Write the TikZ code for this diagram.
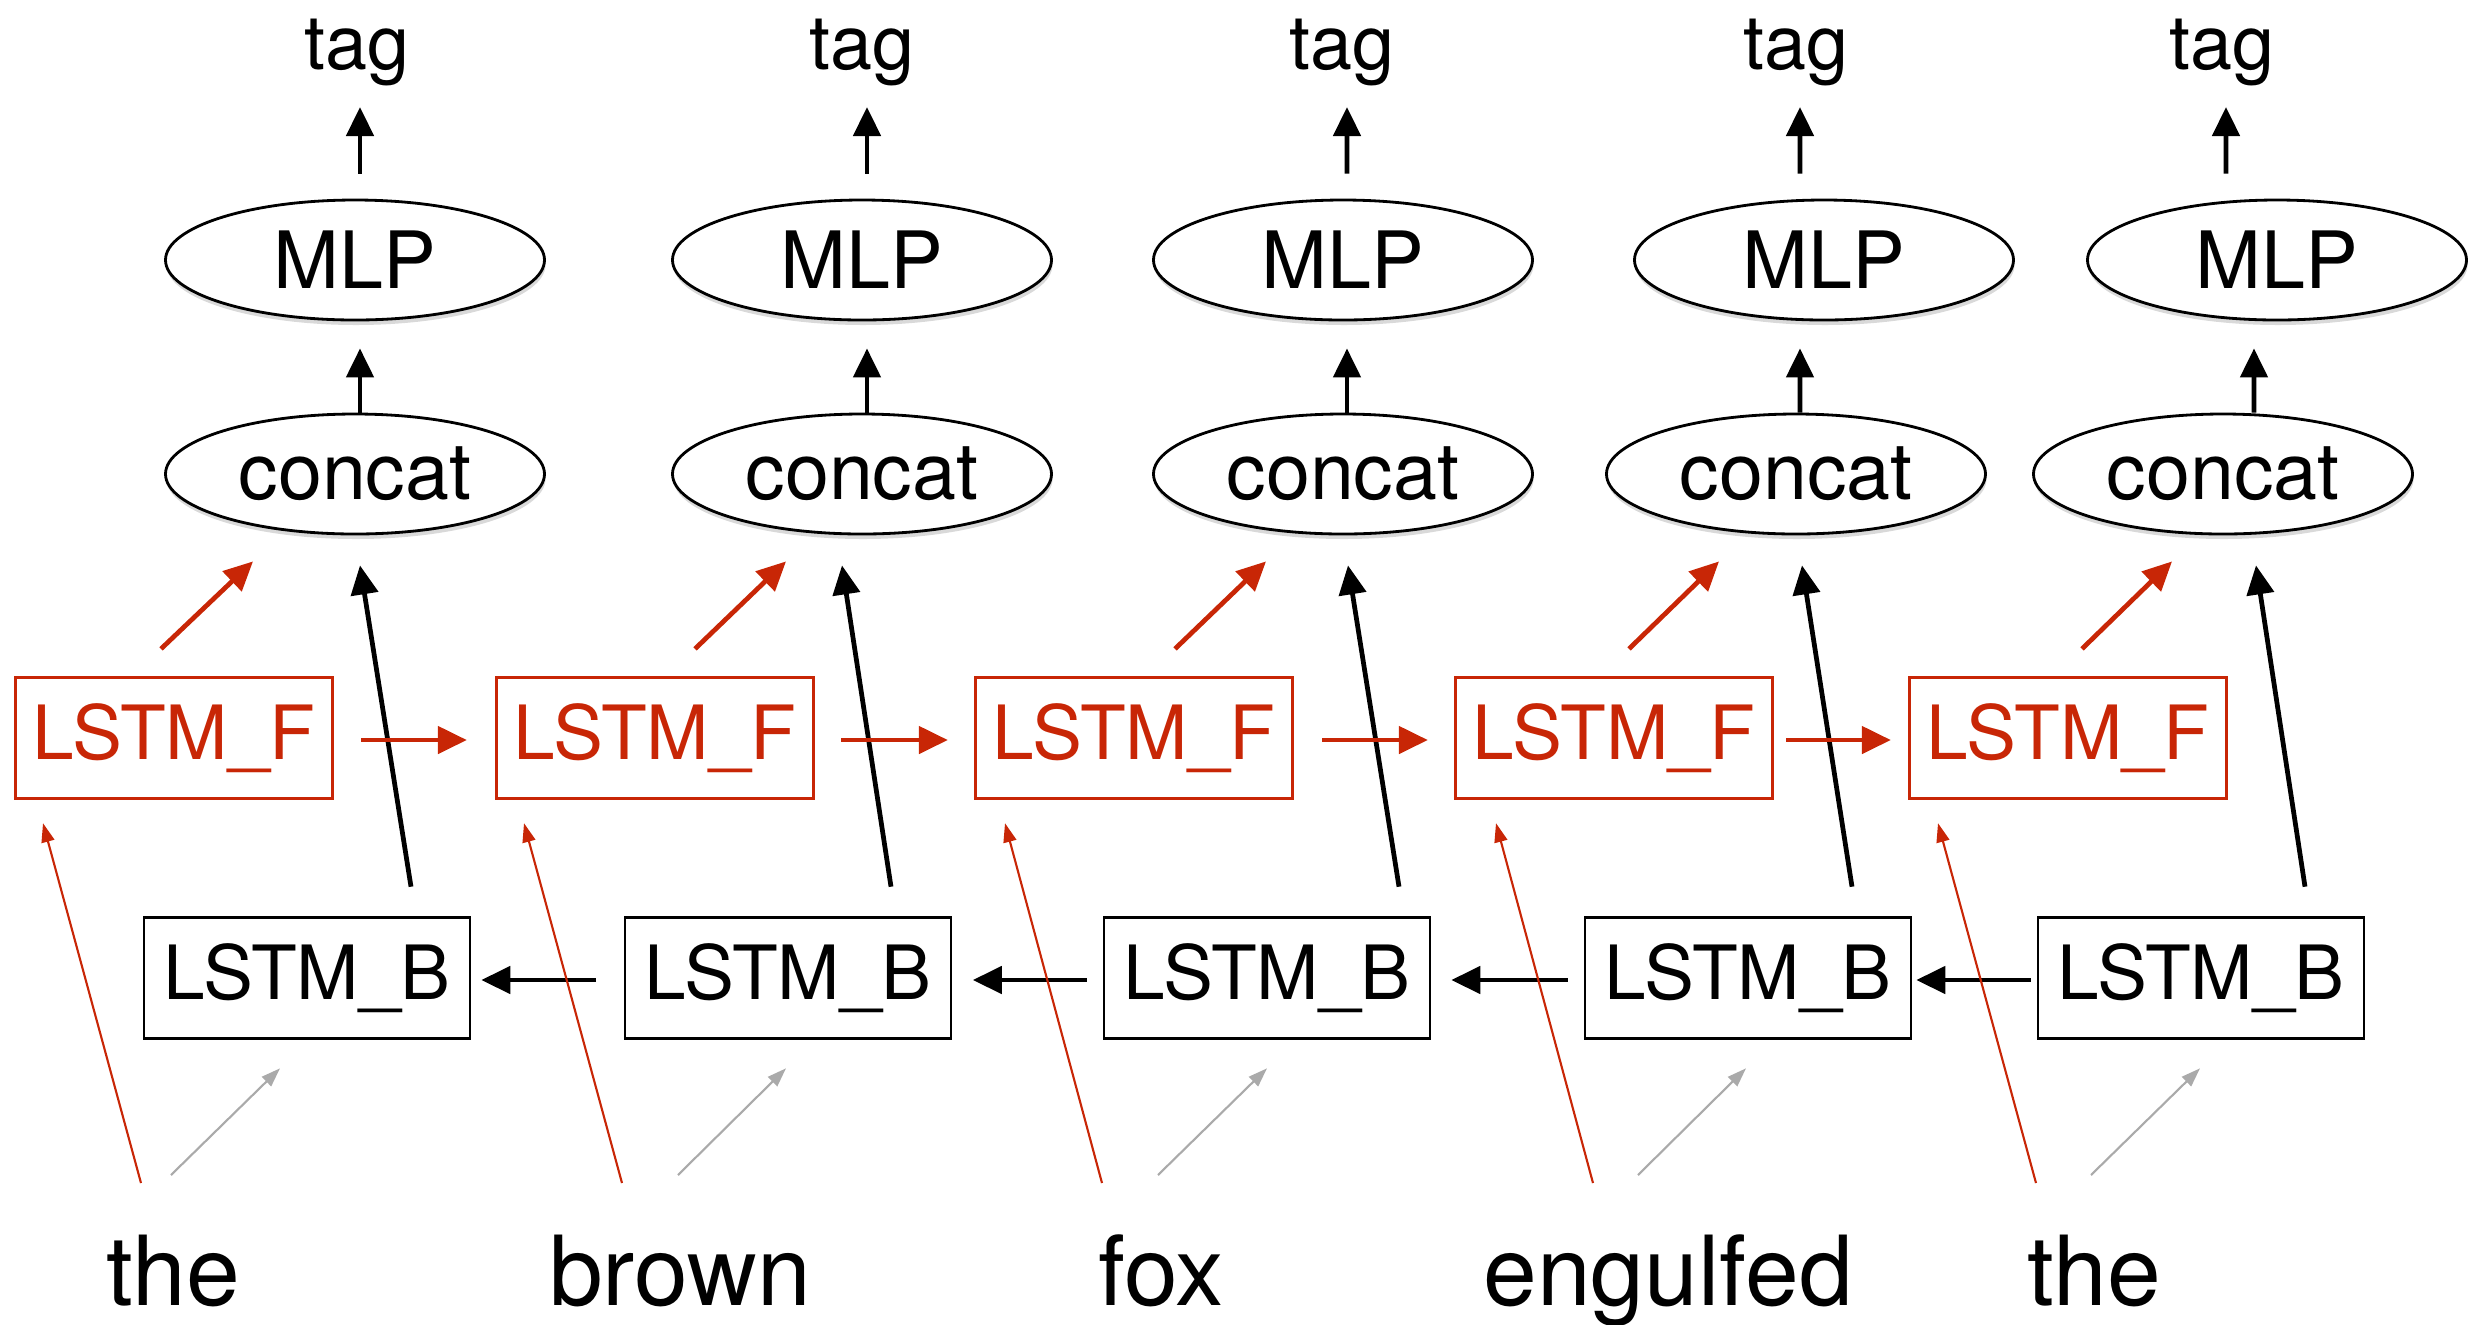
\documentclass[tikz,border=0pt]{standalone}
\usepackage{fontspec}
\setmainfont{TeX Gyre Heros}
\usetikzlibrary{shapes.geometric,arrows.meta,shadows}
\definecolor{fwdred}{RGB}{200,38,6}
\definecolor{embgray}{RGB}{170,170,170}

\begin{document}
\begin{tikzpicture}[
  mlp/.style={draw, ellipse, line width=0.8pt, fill=white, minimum width=3.79cm, minimum height=1.2cm, inner sep=0pt, font=\fontsize{22.5}{26}\selectfont, drop shadow={shadow xshift=0.01cm, shadow yshift=-0.05cm, opacity=0.3}},
  lstmf/.style={draw=fwdred, text=fwdred, line width=0.65pt, minimum width=3.17cm, minimum height=1.21cm, inner sep=0pt, font=\fontsize{21.3}{25}\selectfont},
  lstmb/.style={draw, line width=0.75pt, minimum width=3.26cm, minimum height=1.21cm, inner sep=0pt, font=\fontsize{21.3}{25}\selectfont},
  tagtext/.style={anchor=base, inner sep=0pt, font=\fontsize{21.5}{25}\selectfont},
  wordtext/.style={anchor=base, inner sep=0pt, font=\fontsize{27.5}{31}\selectfont},
  blk/.style={-{Triangle[length=0.29cm,width=0.27cm]}, line width=1.35pt},
  fwd/.style={blk, draw=fwdred},
  fwdin/.style={-{Triangle[length=0.19cm,width=0.13cm]}, draw=fwdred, line width=0.6pt},
  bwdin/.style={fwdin, draw=embgray}]
\useasboundingbox (0,0) rectangle (24.9,-13.24);

% outputs
\node[tagtext] (t1) at (3.57,-0.69)  {tag};
\node[tagtext] (t2) at (8.62,-0.69)  {tag};
\node[tagtext] (t3) at (13.42,-0.69) {tag};
\node[tagtext] (t4) at (17.96,-0.69) {tag};
\node[tagtext] (t5) at (22.22,-0.69) {tag};

\node[mlp] (m1) at (3.55,-2.60)  {MLP};
\node[mlp] (m2) at (8.62,-2.60)  {MLP};
\node[mlp] (m3) at (13.43,-2.60) {MLP};
\node[mlp] (m4) at (18.24,-2.60) {MLP};
\node[mlp] (m5) at (22.77,-2.60) {MLP};

\node[mlp] (c1) at (3.55,-4.74)  {concat};
\node[mlp] (c2) at (8.62,-4.74)  {concat};
\node[mlp] (c3) at (13.43,-4.74) {concat};
\node[mlp] (c4) at (17.96,-4.74) {concat};
\node[mlp] (c5) at (22.23,-4.74) {concat};

% the two LSTMs
\node[lstmf] (f1) at (1.74,-7.38)  {LSTM\_F};
\node[lstmf] (f2) at (6.55,-7.38)  {LSTM\_F};
\node[lstmf] (f3) at (11.34,-7.38) {LSTM\_F};
\node[lstmf] (f4) at (16.14,-7.38) {LSTM\_F};
\node[lstmf] (f5) at (20.68,-7.38) {LSTM\_F};

\node[lstmb] (b1) at (3.07,-9.78)  {LSTM\_B};
\node[lstmb] (b2) at (7.88,-9.78)  {LSTM\_B};
\node[lstmb] (b3) at (12.67,-9.78) {LSTM\_B};
\node[lstmb] (b4) at (17.48,-9.78) {LSTM\_B};
\node[lstmb] (b5) at (22.01,-9.78) {LSTM\_B};

% words
\node[wordtext] (w1) at (1.73,-13.05)  {the};
\node[wordtext] (w2) at (6.80,-13.05)  {brown};
\node[wordtext] (w3) at (11.61,-13.05) {fox};
\node[wordtext] (w4) at (16.68,-13.05) {engulfed};
\node[wordtext] (w5) at (20.94,-13.05) {the};

% MLP -> tag
\draw[blk] ([xshift=0.05cm,yshift=0.25cm]m1.north)  -- ([xshift=0.03cm,yshift=-0.38cm]t1.base);
\draw[blk] ([xshift=0.05cm,yshift=0.25cm]m2.north)  -- ([xshift=0.05cm,yshift=-0.38cm]t2.base);
\draw[blk] ([xshift=0.04cm,yshift=0.25cm]m3.north)  -- ([xshift=0.05cm,yshift=-0.38cm]t3.base);
\draw[blk] ([xshift=-0.24cm,yshift=0.25cm]m4.north) -- ([xshift=0.04cm,yshift=-0.38cm]t4.base);
\draw[blk] ([xshift=-0.51cm,yshift=0.25cm]m5.north) -- ([xshift=0.04cm,yshift=-0.38cm]t5.base);

% concat -> MLP
\draw[blk] ([xshift=0.05cm]c1.north)  -- ([xshift=0.05cm,yshift=-0.27cm]m1.south);
\draw[blk] ([xshift=0.05cm]c2.north)  -- ([xshift=0.05cm,yshift=-0.27cm]m2.south);
\draw[blk] ([xshift=0.04cm]c3.north)  -- ([xshift=0.04cm,yshift=-0.27cm]m3.south);
\draw[blk] ([xshift=0.04cm]c4.north)  -- ([xshift=-0.24cm,yshift=-0.27cm]m4.south);
\draw[blk] ([xshift=0.31cm]c5.north)  -- ([xshift=-0.23cm,yshift=-0.27cm]m5.south);

% LSTM_F -> concat
\draw[fwd] ([xshift=-0.13cm,yshift=0.275cm]f1.north) -- ([xshift=-1.02cm,yshift=-0.26cm]c1.south);
\draw[fwd] ([xshift=0.40cm,yshift=0.275cm]f2.north)  -- ([xshift=-0.76cm,yshift=-0.26cm]c2.south);
\draw[fwd] ([xshift=0.41cm,yshift=0.275cm]f3.north)  -- ([xshift=-0.77cm,yshift=-0.26cm]c3.south);
\draw[fwd] ([xshift=0.15cm,yshift=0.275cm]f4.north)  -- ([xshift=-0.77cm,yshift=-0.26cm]c4.south);
\draw[fwd] ([xshift=0.14cm,yshift=0.275cm]f5.north)  -- ([xshift=-0.51cm,yshift=-0.26cm]c5.south);

% LSTM_B -> concat
\draw[blk] ([xshift=1.04cm,yshift=0.295cm]b1.north) -- ([xshift=0.05cm,yshift=-0.30cm]c1.south);
\draw[blk] ([xshift=1.03cm,yshift=0.295cm]b2.north) -- ([xshift=-0.20cm,yshift=-0.30cm]c2.south);
\draw[blk] ([xshift=1.32cm,yshift=0.295cm]b3.north) -- ([xshift=0.05cm,yshift=-0.30cm]c3.south);
\draw[blk] ([xshift=1.04cm,yshift=0.295cm]b4.north) -- ([xshift=0.06cm,yshift=-0.30cm]c4.south);
\draw[blk] ([xshift=1.04cm,yshift=0.295cm]b5.north) -- ([xshift=0.33cm,yshift=-0.30cm]c5.south);

% forward chain
\draw[fwd] ([xshift=0.275cm,yshift=-0.02cm]f1.east) -- ([xshift=-0.285cm,yshift=-0.02cm]f2.west);
\draw[fwd] ([xshift=0.265cm,yshift=-0.02cm]f2.east) -- ([xshift=-0.265cm,yshift=-0.02cm]f3.west);
\draw[fwd] ([xshift=0.285cm,yshift=-0.02cm]f3.east) -- ([xshift=-0.265cm,yshift=-0.02cm]f4.west);
\draw[fwd] ([xshift=0.125cm,yshift=-0.02cm]f4.east) -- ([xshift=-0.175cm,yshift=-0.02cm]f5.west);

% backward chain
\draw[blk] ([xshift=-0.275cm,yshift=-0.02cm]b2.west) -- ([xshift=0.10cm,yshift=-0.02cm]b1.east);
\draw[blk] ([xshift=-0.16cm,yshift=-0.02cm]b3.west)  -- ([xshift=0.205cm,yshift=-0.02cm]b2.east);
\draw[blk] ([xshift=-0.16cm,yshift=-0.02cm]b4.west)  -- ([xshift=0.20cm,yshift=-0.02cm]b3.east);
\draw[blk] ([xshift=-0.06cm,yshift=-0.02cm]b5.west)  -- ([xshift=0.04cm,yshift=-0.02cm]b4.east);

% words -> LSTM_F
\draw[fwdin] ([xshift=-0.32cm,yshift=1.22cm]w1.base) -- ([xshift=-1.31cm,yshift=-0.235cm]f1.south);
\draw[fwdin] ([xshift=-0.58cm,yshift=1.22cm]w2.base) -- ([xshift=-1.31cm,yshift=-0.235cm]f2.south);
\draw[fwdin] ([xshift=-0.59cm,yshift=1.22cm]w3.base) -- ([xshift=-1.29cm,yshift=-0.235cm]f3.south);
\draw[fwdin] ([xshift=-0.75cm,yshift=1.22cm]w4.base) -- ([xshift=-1.18cm,yshift=-0.235cm]f4.south);
\draw[fwdin] ([xshift=-0.58cm,yshift=1.22cm]w5.base) -- ([xshift=-1.30cm,yshift=-0.235cm]f5.south);

% words -> LSTM_B
\draw[bwdin] ([xshift=-0.02cm,yshift=1.30cm]w1.base) -- ([xshift=-0.27cm,yshift=-0.285cm]b1.south);
\draw[bwdin] ([xshift=-0.02cm,yshift=1.30cm]w2.base) -- ([xshift=-0.02cm,yshift=-0.285cm]b2.south);
\draw[bwdin] ([xshift=-0.03cm,yshift=1.30cm]w3.base) -- ([xshift=0cm,yshift=-0.285cm]b3.south);
\draw[bwdin] ([xshift=-0.30cm,yshift=1.30cm]w4.base) -- ([xshift=-0.02cm,yshift=-0.285cm]b4.south);
\draw[bwdin] ([xshift=-0.03cm,yshift=1.30cm]w5.base) -- ([xshift=-0.01cm,yshift=-0.285cm]b5.south);
\end{tikzpicture}
\end{document}
